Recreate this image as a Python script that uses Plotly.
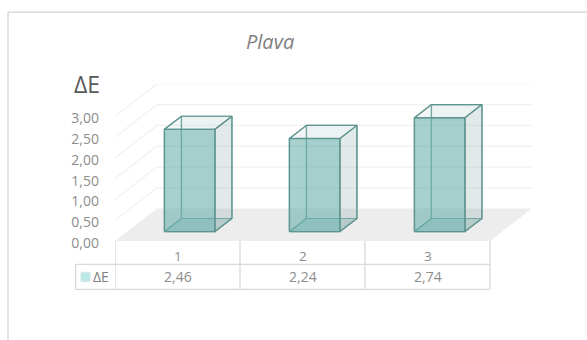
import plotly.graph_objects as go

# Chart data
categories = ["1", "2", "3"]
series_name = "ΔE"
values = [2.46, 2.24, 2.74]
value_labels = ["2,46", "2,24", "2,74"]
y_ticks = [0, 0.5, 1, 1.5, 2, 2.5, 3]
title_text = "Plava"

# Oblique projection: depth z (0 front, 1 back) shifts a point along both axes
SHIFT_X = 42 / 125
SHIFT_Y = 32.5 / 41.7
BAR_WIDTH = 0.404
BAR_Z0, BAR_Z1 = 0.29, 0.695

# Plot-area placement in pixels
W, H = 587, 340
LEFT, RIGHT, TOP, BOTTOM = 115, 532, 84, 241.5


def project(x, v, z):
    return x + z * SHIFT_X, v + z * SHIFT_Y


def px(p):
    return (p - LEFT) / (RIGHT - LEFT)


def py(p):
    return (BOTTOM - p) / (BOTTOM - TOP)


def polygon(points, fill, edge, width=1.2):
    pts = [project(*pt) for pt in points] + [project(*points[0])]
    return go.Scatter(
        x=[p[0] for p in pts], y=[p[1] for p in pts],
        mode="lines", fill="toself", fillcolor=fill,
        line=dict(color=edge, width=width),
        hoverinfo="skip", showlegend=False, cliponaxis=False,
    )


fig = go.Figure()

# Floor
n = len(categories)
fig.add_trace(polygon([(0, 0, 0), (n, 0, 0), (n, 0, 1), (0, 0, 1)],
                      "#ededed", "rgba(0,0,0,0)", 0))

# Gridlines running along the left wall and the back wall
for t in y_ticks[1:]:
    pts = [project(0, t, 0), project(0, t, 1), project(n, t, 1)]
    fig.add_trace(go.Scatter(
        x=[p[0] for p in pts], y=[p[1] for p in pts], mode="lines",
        line=dict(color="#f1f1f1", width=1.3),
        hoverinfo="skip", showlegend=False, cliponaxis=False,
    ))

# Translucent boxes, drawn back to front
BACK_EDGE = "#74a8a4"
FRONT_EDGE = "#5f9490"
for i, v in enumerate(values):
    x0 = i + 0.5 - BAR_WIDTH / 2
    x1 = i + 0.5 + BAR_WIDTH / 2
    z0, z1 = BAR_Z0, BAR_Z1
    # bottom
    fig.add_trace(polygon([(x0, 0, z0), (x1, 0, z0), (x1, 0, z1), (x0, 0, z1)],
                          "rgba(90,160,155,0.30)", BACK_EDGE))
    # back
    fig.add_trace(polygon([(x0, 0, z1), (x1, 0, z1), (x1, v, z1), (x0, v, z1)],
                          "rgba(150,180,180,0.10)", BACK_EDGE))
    # left side
    fig.add_trace(polygon([(x0, 0, z0), (x0, 0, z1), (x0, v, z1), (x0, v, z0)],
                          "rgba(150,180,180,0.05)", BACK_EDGE))
    # right side
    fig.add_trace(polygon([(x1, 0, z0), (x1, 0, z1), (x1, v, z1), (x1, v, z0)],
                          "rgba(110,150,150,0.14)", FRONT_EDGE))
    # top
    fig.add_trace(polygon([(x0, v, z0), (x1, v, z0), (x1, v, z1), (x0, v, z1)],
                          "rgba(130,175,175,0.06)", FRONT_EDGE))
    # front
    fig.add_trace(polygon([(x0, 0, z0), (x1, 0, z0), (x1, v, z0), (x0, v, z0)],
                          "rgba(100,175,170,0.55)", FRONT_EDGE, 1.4))

FONT = "Open Sans"
LINE = "#d9d9d9"
shapes = []


def line(x0, y0, x1, y1, color=LINE, width=1.3):
    shapes.append(dict(type="line", xref="paper", yref="paper",
                       x0=px(x0), y0=py(y0), x1=px(x1), y1=py(y1),
                       line=dict(color=color, width=width)))


# Outer chart frame, open towards the right and bottom page edges
line(8, 12, W, 12, width=1.5)
line(8, 12, 8, H, width=1.5)

# Data table grid
ROW_MID, ROW_END = 265, 290
TABLE_LEFT = 75.7
line(TABLE_LEFT, ROW_MID, 489.7, ROW_MID)
line(TABLE_LEFT, ROW_END, 489.7, ROW_END)
line(TABLE_LEFT, ROW_MID, TABLE_LEFT, ROW_END)
for k in range(n + 1):
    shapes.append(dict(type="line", xref="x", yref="paper",
                       x0=k, x1=k, y0=py(241.5), y1=py(ROW_END),
                       line=dict(color=LINE, width=1.3)))

# Legend key inside the table
shapes.append(dict(type="rect", xref="paper", yref="paper",
                   x0=px(81), x1=px(90), y0=py(273), y1=py(282),
                   fillcolor="#b9e8e6", line=dict(color="#cfe6e5", width=1)))

annotations = [
    dict(text=title_text, xref="paper", yref="paper", x=px(270), y=py(41),
         showarrow=False, font=dict(family=FONT, size=20, color="#7f7f7f", style="italic"),
         xanchor="center", yanchor="middle"),
    dict(text=series_name, xref="paper", yref="paper", x=px(86.5), y=py(83.5),
         showarrow=False, font=dict(family=FONT, size=23, color="#595959"),
         xanchor="center", yanchor="middle"),
    dict(text=series_name, xref="paper", yref="paper", x=px(101), y=py(277),
         showarrow=False, font=dict(family=FONT, size=14, color="#808080"),
         xanchor="center", yanchor="middle"),
]
for i, (c, lab) in enumerate(zip(categories, value_labels)):
    annotations.append(dict(text=c, xref="x", yref="paper", x=i + 0.5, y=py(256.5),
                            showarrow=False, xanchor="center", yanchor="middle",
                            font=dict(family=FONT, size=13.5, color="#8c8c8c")))
    annotations.append(dict(text=lab, xref="x", yref="paper", x=i + 0.5, y=py(277),
                            showarrow=False, xanchor="center", yanchor="middle",
                            font=dict(family=FONT, size=14, color="#8c8c8c")))

fig.update_layout(
    width=W, height=H, autosize=False,
    margin=dict(l=LEFT, r=W - RIGHT, t=TOP, b=H - BOTTOM, pad=0),
    paper_bgcolor="white", plot_bgcolor="rgba(0,0,0,0)",
    separators=", ",
    showlegend=False,
    shapes=shapes,
    annotations=annotations,
    xaxis=dict(range=[0, n + SHIFT_X], visible=False, fixedrange=True),
    yaxis=dict(range=[0, (BOTTOM - TOP) / 41.7], tickmode="array", tickvals=y_ticks,
               tickformat=".2f", showgrid=False, zeroline=False, showline=False,
               ticks="", ticklabelstandoff=15, ticklabelshift=2, fixedrange=True,
               tickfont=dict(family=FONT, size=14, color="#8c8c8c")),
)

fig.write_html("out.html", config={"displayModeBar": False})
